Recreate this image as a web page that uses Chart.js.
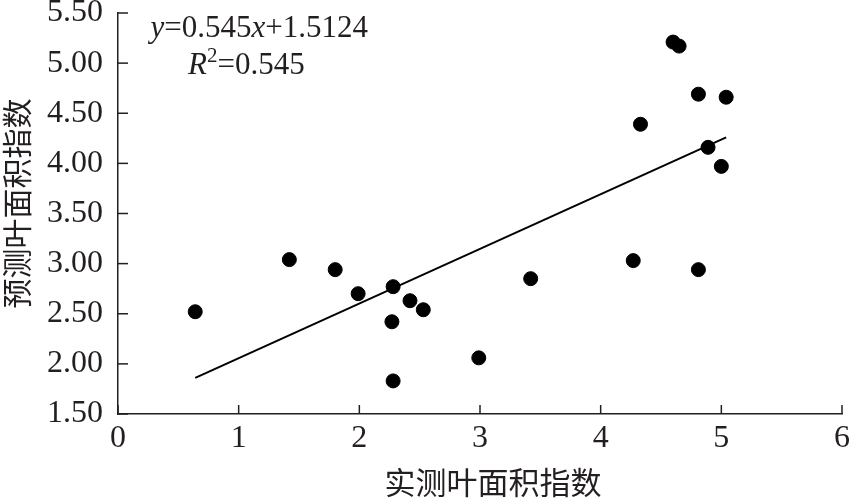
<!DOCTYPE html>
<html><head><meta charset="utf-8">
<script src="https://cdn.jsdelivr.net/npm/chart.js@4/dist/chart.umd.min.js"></script>
<style>html,body{margin:0;padding:0;background:#fff}#wrap{width:850px;height:498px}</style>
</head><body><div id="wrap"><canvas id="c" width="850" height="498"></canvas></div>
<script>
const actualLAI = [0.64,1.42,1.80,1.99,2.28,2.27,2.42,2.53,2.28,2.99,3.42,4.27,4.81,4.60,4.65,4.81,5.04,4.33,4.89,5.00];
const predictedLAI = [2.52,3.04,2.94,2.70,2.77,2.42,2.63,2.54,1.83,2.06,2.85,3.03,2.94,5.21,5.17,4.69,4.66,4.39,4.16,3.97];
const trendX = [0.64, 5.04];
const trendY = [1.86, 4.26];
const xTicks = [0,1,2,3,4,5,6];
const yTicks = [1.5,2.0,2.5,3.0,3.5,4.0,4.5,5.0,5.5];
const xTitle = '实测叶面积指数';
const yTitle = '预测叶面积指数';
const eqParts = [['y','italic'],['=0.545','normal'],['x','italic'],['+1.5124','normal']];
const r2Parts = [['R','italic'],['2','sup'],['=0.545','normal']];

const INK = '#231f20';
const SERIF = '"Liberation Serif","Times New Roman",serif';
const CJK = '"Noto Sans CJK SC","Noto Sans CJK JP",sans-serif';

const inwardTicks = {
  id:'inwardTicks',
  afterDatasetsDraw(chart){
    const {ctx, scales:{x,y}, chartArea:a} = chart;
    ctx.save();
    ctx.strokeStyle = INK; ctx.lineWidth = 1.5;
    xTicks.forEach(v=>{const px=x.getPixelForValue(v);ctx.beginPath();ctx.moveTo(px,a.bottom);ctx.lineTo(px,a.bottom-9);ctx.stroke();});
    yTicks.forEach(v=>{const py=y.getPixelForValue(v);ctx.beginPath();ctx.moveTo(a.left,py);ctx.lineTo(a.left+10,py);ctx.stroke();});
    const drawParts=(parts,px,py)=>{
      let cx=px;
      parts.forEach(([t,s])=>{
        if(s==='sup'){ctx.font='21px '+SERIF;ctx.fillText(t,cx,py-12);cx+=ctx.measureText(t).width;}
        else{ctx.font=(s==='italic'?'italic ':'')+'31px '+SERIF;ctx.fillText(t,cx,py);cx+=ctx.measureText(t).width;}
      });
    };
    ctx.fillStyle=INK; ctx.textBaseline='alphabetic'; ctx.textAlign='left';
    drawParts(eqParts, x.getPixelForValue(0.27), y.getPixelForValue(5.26));
    drawParts(r2Parts, x.getPixelForValue(0.58), y.getPixelForValue(4.89));
    // axis titles
    ctx.textAlign='center'; ctx.textBaseline='middle';
    ctx.font='31px '+CJK;
    ctx.fillText(xTitle, (a.left+a.right)/2+13, a.bottom+68);
    ctx.save();
    ctx.translate(a.left-101, (a.top+a.bottom)/2-10);
    ctx.rotate(-Math.PI/2);
    ctx.font='30px '+CJK;
    ctx.fillText(yTitle, 0, 0);
    ctx.restore();
    ctx.restore();
  }
};

new Chart(document.getElementById('c'),{
  type:'scatter',
  data:{datasets:[
    {data:actualLAI.map((v,i)=>({x:v,y:predictedLAI[i]})),backgroundColor:'#000',borderColor:'#000',pointRadius:7,pointHoverRadius:7},
    {type:'line',data:trendX.map((v,i)=>({x:v,y:trendY[i]})),borderColor:'#000',borderWidth:2,pointRadius:0,fill:false}
  ]},
  options:{
    responsive:false,animation:false,
    layout:{padding:{top:13,right:8,left:0,bottom:0}},
    plugins:{legend:{display:false},tooltip:{enabled:false}},
    scales:{
      x:{type:'linear',min:0,max:6,
        afterBuildTicks(s){s.ticks=xTicks.map(v=>({value:v}));},
        afterFit(s){s.height=84;s.paddingLeft=0;s.paddingRight=0;},
        grid:{display:false,drawTicks:false},
        border:{display:true,color:INK,width:1.5},
        ticks:{color:INK,font:{family:SERIF,size:32},padding:5,maxRotation:0,callback:v=>String(v)},
        title:{display:false}
      },
      y:{type:'linear',min:1.5,max:5.5,
        afterBuildTicks(s){s.ticks=yTicks.map(v=>({value:v}));},
        afterFit(s){s.width=118;s.paddingTop=0;s.paddingBottom=0;},
        grid:{display:false,drawTicks:false},
        border:{display:true,color:INK,width:1.5},
        ticks:{color:INK,font:{family:SERIF,size:32},padding:15,callback:v=>Number(v).toFixed(2)},
        title:{display:false}
      }
    }
  },
  plugins:[inwardTicks]
});
</script></body></html>
